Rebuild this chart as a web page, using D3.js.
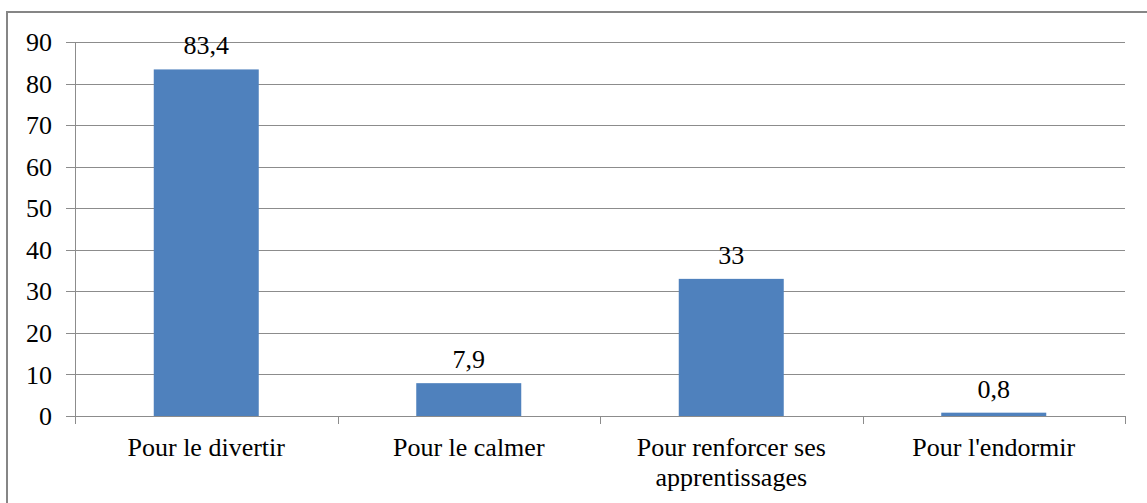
<!DOCTYPE html>
<meta charset="utf-8">
<html>
<head>
<script src="https://d3js.org/d3.v7.min.js"></script>
</head>
<body style="margin:0; background:#fff">
<script>
// data
var categories = ["Pour le divertir", "Pour le calmer", "Pour renforcer ses apprentissages", "Pour l'endormir"];
var values = [83.4, 7.9, 33, 0.8];
var valueLabels = ["83,4", "7,9", "33", "0,8"];
var yTicks = [0, 10, 20, 30, 40, 50, 60, 70, 80, 90];

var W = 1147, H = 503;
var margin = {top: 42, right: 22, bottom: 87, left: 75};
var width = W - margin.left - margin.right,
    height = H - margin.top - margin.bottom;
var font = "'Liberation Serif', monospace", fs = "26px";

var svg = d3.select("body").append("svg")
  .attr("width", W).attr("height", H)
  .style("display", "block");

// outer frame
svg.append("rect")
  .attr("x", 7).attr("y", 12)
  .attr("width", W + 10).attr("height", H + 10)
  .attr("fill", "none").attr("stroke", "#868686").attr("stroke-width", 2);

var g = svg.append("g")
  .attr("transform", "translate(" + margin.left + "," + margin.top + ")");

var x = d3.scaleBand().domain(categories).range([0, width]).paddingInner(0.6).paddingOuter(0.3);
var xb = d3.scaleBand().domain(categories).range([0, width]);
var y = d3.scaleLinear().domain([0, 90]).range([height, 0]);

// gridlines
g.append("g").selectAll("line").data(yTicks).enter().append("line")
  .attr("x1", -9).attr("x2", width)
  .attr("y1", function(d) { return Math.round(y(d)) + 0.5; })
  .attr("y2", function(d) { return Math.round(y(d)) + 0.5; })
  .attr("stroke", "#8c8c8c").attr("stroke-width", 1);

// y axis labels
g.selectAll("text.ytk").data(yTicks).enter().append("text")
  .attr("class", "ytk")
  .attr("x", -23)
  .attr("y", function(d) { return y(d); })
  .attr("dy", "0.35em")
  .attr("text-anchor", "end")
  .style("font-family", font, "important").style("font-size", fs)
  .text(function(d) { return d; });
g.append("line").attr("x1", 0.5).attr("x2", 0.5).attr("y1", 0).attr("y2", height)
  .attr("stroke", "#8c8c8c");

// bars
g.selectAll("rect.bar").data(values).enter().append("rect")
  .attr("class", "bar")
  .attr("x", function(d, i) { return x(categories[i]); })
  .attr("width", x.bandwidth())
  .attr("y", function(d) { return y(d); })
  .attr("height", function(d) { return height - y(d); })
  .attr("fill", "#4f81bd");

// value labels
g.selectAll("text.val").data(values).enter().append("text")
  .attr("class", "val")
  .attr("x", function(d, i) { return x(categories[i]) + x.bandwidth() / 2; })
  .attr("y", function(d) { return y(d) - 15; })
  .attr("text-anchor", "middle")
  .style("font-family", font, "important").style("font-size", fs)
  .text(function(d, i) { return valueLabels[i]; });

// x axis with ticks at band edges
var xg = g.append("g").attr("transform", "translate(0," + height + ")");
xg.append("line").attr("x1", 0).attr("x2", width).attr("y1", 0.5).attr("y2", 0.5).attr("stroke", "#8c8c8c");
var edges = [0].concat(categories.map(function(c) { return xb(c) + xb.bandwidth(); }));
xg.selectAll("line.tk").data(edges).enter().append("line")
  .attr("class", "tk")
  .attr("x1", function(d) { return Math.round(d) + 0.5; })
  .attr("x2", function(d) { return Math.round(d) + 0.5; })
  .attr("y1", 0).attr("y2", 8)
  .attr("stroke", "#8c8c8c");

// category labels, wrapped like the original
var labelLines = {
  "Pour renforcer ses apprentissages": ["Pour renforcer ses", "apprentissages"]
};
categories.forEach(function(c) {
  var lines = labelLines[c] || [c];
  var t = xg.append("text")
    .attr("x", xb(c) + xb.bandwidth() / 2)
    .attr("y", 40)
    .attr("text-anchor", "middle")
    .style("font-family", font, "important").style("font-size", fs);
  lines.forEach(function(l, i) {
    t.append("tspan").attr("x", xb(c) + xb.bandwidth() / 2).attr("dy", i ? 30 : 0).text(l);
  });
});
</script>
</body>
</html>
